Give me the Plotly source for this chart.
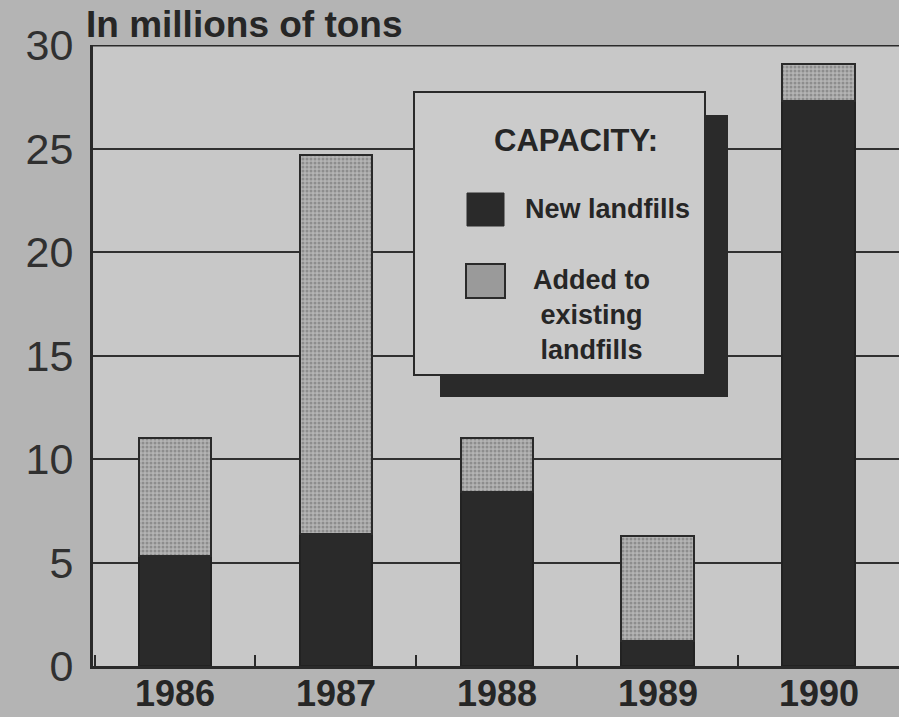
import plotly.graph_objects as go

years = ["1986", "1987", "1988", "1989", "1990"]
new_landfills = [5.3, 6.4, 8.4, 1.2, 27.3]
added_existing = [5.7, 18.3, 2.6, 5.1, 1.8]
y_ticks = [0, 5, 10, 15, 20, 25, 30]

W, H = 899, 717
L, R, T, B = 93, 0, 45, 51
PW, PH = W - L - R, H - T - B


def px(x):
    return (x - L) / PW


def py(y):
    return (H - B - y) / PH


DARK = "#2a2a2a"
FONT = "Liberation Sans, Arial, sans-serif"
fig = go.Figure()
fig.add_trace(go.Bar(
    x=years, y=new_landfills, name="New landfills", width=0.45,
    marker=dict(color=DARK, line=dict(color="#222222", width=2)),
    showlegend=False,
))
fig.add_trace(go.Bar(
    x=years, y=added_existing, name="Added to existing landfills", width=0.45,
    marker=dict(color="#9c9c9c", line=dict(color="#2a2a2a", width=2),
                pattern=dict(shape=".", fgcolor="#666666", bgcolor="#b4b4b4",
                             size=4, solidity=0.45)),
    showlegend=False,
))

shapes = [
    dict(type="line", xref="paper", yref="y", x0=0, x1=1, y0=30, y1=30,
         line=dict(color=DARK, width=3), layer="above"),
    dict(type="rect", xref="paper", yref="paper", x0=px(440), x1=px(728),
         y0=py(397), y1=py(115), fillcolor=DARK, line=dict(width=0), layer="above"),
    dict(type="rect", xref="paper", yref="paper", x0=px(414), x1=px(705),
         y0=py(375), y1=py(92), fillcolor="#cbcbcb", line=dict(color=DARK, width=2),
         layer="above"),
    dict(type="rect", xref="paper", yref="paper", x0=px(467), x1=px(504),
         y0=py(226), y1=py(193), fillcolor=DARK, line=dict(color=DARK, width=1),
         layer="above"),
    dict(type="rect", xref="paper", yref="paper", x0=px(466), x1=px(505),
         y0=py(298), y1=py(264), fillcolor="#9a9a9a", line=dict(color=DARK, width=2),
         layer="above"),
]

ann_font = dict(family=FONT, color="#262626")
annotations = [
    dict(text="<b>In millions of tons</b>", xref="paper", yref="paper",
         x=px(84), y=py(24), xanchor="left", yanchor="middle", showarrow=False,
         font=dict(size=37, **ann_font)),
    dict(text="<b>CAPACITY:</b>", xref="paper", yref="paper",
         x=px(576), y=py(140), xanchor="center", yanchor="middle", showarrow=False,
         font=dict(size=31, **ann_font)),
    dict(text="<b>New landfills</b>", xref="paper", yref="paper",
         x=px(523), y=py(209), xanchor="left", yanchor="middle", showarrow=False,
         font=dict(size=27, **ann_font)),
    dict(text="<b>Added to<br>existing<br>landfills</b>", xref="paper", yref="paper",
         x=px(591), y=py(315), xanchor="center", yanchor="middle", showarrow=False,
         align="center", font=dict(size=27, **ann_font)),
]
# category labels under the axis (category index positions on the x axis)
for i, yr in enumerate(years):
    annotations.append(dict(
        text=f"<b>{yr}</b>", xref="x", yref="paper", x=i, y=py(693),
        xanchor="center", yanchor="middle", showarrow=False,
        font=dict(size=36, **ann_font)))

fig.update_layout(
    width=W, height=H,
    margin=dict(l=L, r=R, t=T, b=B, pad=0, autoexpand=False),
    paper_bgcolor="#b4b4b4",
    plot_bgcolor="#c8c8c8",
    barmode="stack",
    bargap=0.55,
    shapes=shapes,
    annotations=annotations,
    font=dict(family=FONT, color="#262626"),
)
fig.update_xaxes(
    type="category", range=[-0.51, 4.5], automargin=False,
    showline=True, linecolor=DARK, linewidth=3,
    ticks="inside", tickson="boundaries", ticklen=11, tickwidth=2, tickcolor=DARK,
    showgrid=False, showticklabels=False,
)
fig.update_yaxes(
    range=[0, 30], tickvals=y_ticks, automargin=False,
    showline=True, linecolor=DARK, linewidth=3,
    showgrid=True, gridcolor="#303030", gridwidth=2,
    zeroline=False, ticks="",
    tickfont=dict(size=43, family=FONT, color="#303030"),
    ticklabelstandoff=8,
)

fig.write_html("out.html")
